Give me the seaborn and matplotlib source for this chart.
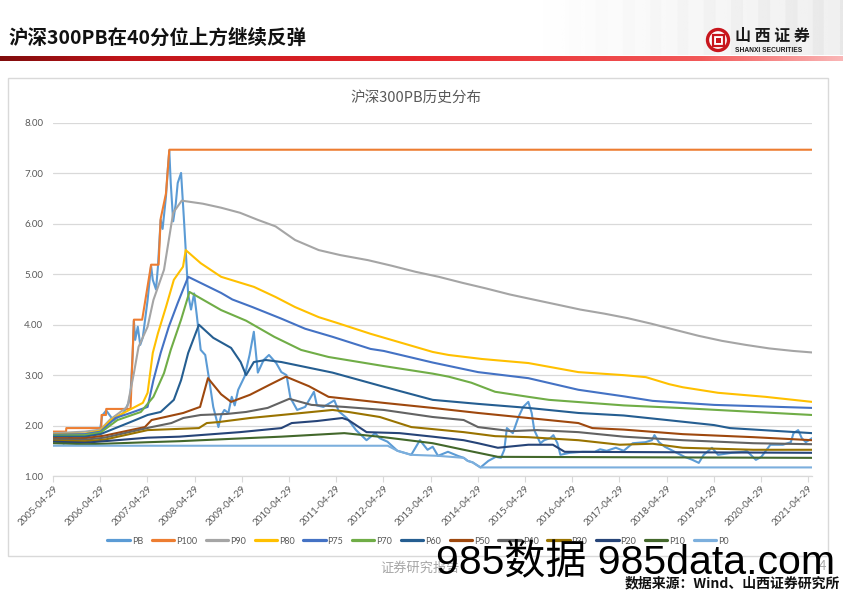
import numpy as np
import pandas as pd
import matplotlib
matplotlib.use("Agg")
import matplotlib.pyplot as plt
import seaborn as sns
from matplotlib.patches import Rectangle, Circle

# ---------------- data ----------------
series_names = ["PB", "P100", "P90", "P80", "P75", "P70", "P60", "P50", "P40", "P30", "P20", "P10", "P0"]
series_colors = ["#5B9BD5", "#ED7D31", "#A5A5A5", "#FFC000", "#4472C4", "#70AD47", "#255E91",
                 "#9E480E", "#636363", "#997300", "#264478", "#43682B", "#7CAFDD"]

pb_dates = ["2005-04-29", "2005-05-20", "2005-06-03", "2005-07-01", "2005-07-20", "2005-09-08", "2005-10-20",
            "2005-12-01", "2006-01-10", "2006-02-15", "2006-03-20", "2006-05-01", "2006-05-15", "2006-06-15",
            "2006-08-10", "2006-09-20", "2006-10-27", "2006-12-05", "2006-12-20", "2007-01-05", "2007-01-15",
            "2007-01-25", "2007-02-14", "2007-03-05", "2007-03-25", "2007-05-01", "2007-05-28", "2007-06-10",
            "2007-07-05", "2007-07-20", "2007-08-10", "2007-08-25", "2007-09-20", "2007-10-05", "2007-10-16",
            "2007-10-27", "2007-11-15", "2007-12-05", "2007-12-20", "2008-01-15", "2008-02-05", "2008-02-20",
            "2008-03-10", "2008-04-01", "2008-04-25", "2008-05-15", "2008-06-15", "2008-07-20", "2008-08-20",
            "2008-09-20", "2008-10-30", "2008-11-20", "2008-12-15", "2009-01-15", "2009-02-10", "2009-03-05",
            "2009-04-01", "2009-05-20", "2009-06-28", "2009-07-31", "2009-08-31", "2009-10-15", "2009-11-25",
            "2010-01-20", "2010-03-01", "2010-04-10", "2010-05-10", "2010-07-01", "2010-09-01", "2010-11-08",
            "2010-12-01", "2011-01-20", "2011-04-15", "2011-05-20", "2011-07-20", "2011-08-20", "2011-09-30",
            "2011-12-20", "2012-02-25", "2012-03-30", "2012-05-30", "2012-08-15", "2012-11-30", "2013-02-05",
            "2013-04-05", "2013-05-15", "2013-06-25", "2013-09-10", "2013-11-25", "2014-01-10", "2014-02-10",
            "2014-03-20", "2014-05-20", "2014-07-20", "2014-09-15", "2014-10-25", "2014-11-20", "2014-12-10",
            "2015-01-25", "2015-03-10", "2015-04-15", "2015-05-25", "2015-06-20", "2015-07-10", "2015-08-26",
            "2015-09-25", "2015-11-10", "2015-12-05", "2016-01-05", "2016-01-28", "2016-04-10", "2016-07-20",
            "2016-10-20", "2016-11-30", "2017-01-20", "2017-04-01", "2017-06-01", "2017-08-10", "2017-11-15",
            "2018-01-05", "2018-01-25", "2018-03-01", "2018-04-15", "2018-07-01", "2018-09-15", "2018-11-15",
            "2019-01-03", "2019-02-10", "2019-04-15", "2019-06-01", "2019-09-15", "2019-12-15", "2020-01-08",
            "2020-03-20", "2020-05-01", "2020-07-10", "2020-10-15", "2020-12-15", "2021-01-05", "2021-02-10",
            "2021-03-10", "2021-04-10", "2021-05-28"]
pb_values = [1.87, 1.78, 1.66, 1.72, 1.64, 1.77, 1.70,
             1.73, 1.80, 1.86, 1.84, 1.97, 2.20, 2.30,
             2.10, 2.18, 2.25, 2.45, 2.65, 3.40, 4.08,
             3.70, 3.96, 3.60, 3.75, 4.49, 5.17, 4.89,
             4.70, 5.15, 6.08, 5.90, 6.54, 7.10, 7.45,
             6.81, 6.05, 6.40, 6.81, 7.01, 6.14, 5.48,
             4.60, 4.30, 4.62, 4.20, 3.50, 3.40, 2.90,
             2.37, 1.97, 2.20, 2.31, 2.25, 2.57, 2.40,
             2.71, 2.97, 3.40, 3.86, 3.05, 3.30, 3.40,
             3.24, 3.06, 3.00, 2.55, 2.31, 2.37, 2.67,
             2.40, 2.37, 2.50, 2.28, 2.15, 2.05, 1.91,
             1.71, 1.85, 1.75, 1.68, 1.50, 1.42, 1.71,
             1.52, 1.58, 1.40, 1.48, 1.40, 1.36, 1.30,
             1.27, 1.17, 1.30, 1.38, 1.36, 1.52, 1.95,
             1.85, 2.17, 2.37, 2.47, 2.25, 1.91, 1.65,
             1.71, 1.75, 1.81, 1.65, 1.42, 1.46, 1.48,
             1.48, 1.53, 1.50, 1.56, 1.50, 1.65, 1.67,
             1.71, 1.81, 1.67, 1.58, 1.48, 1.38, 1.32,
             1.26, 1.42, 1.56, 1.42, 1.46, 1.48, 1.50,
             1.32, 1.38, 1.62, 1.62, 1.67, 1.85, 1.91,
             1.75, 1.67, 1.75]

p100_dates = ["2005-04-29", "2005-08-08", "2005-08-10", "2006-05-08", "2006-05-10", "2006-06-13", "2006-06-15",
              "2006-12-20", "2007-01-15", "2007-03-20", "2007-05-28", "2007-07-25", "2007-08-10", "2007-09-20",
              "2007-10-16", "2021-05-28"]
p100_values = [1.88, 1.88, 1.95, 1.95, 2.21, 2.21, 2.33,
               2.33, 4.10, 4.10, 5.19, 5.19, 6.10, 6.60,
               7.47, 7.47]

p90_dates = ["2005-04-29", "2005-08-01", "2006-01-01", "2006-05-01", "2006-07-15", "2006-11-25", "2007-01-15",
             "2007-02-20", "2007-05-01", "2007-06-15", "2007-09-05", "2007-10-12", "2007-11-15", "2008-01-20",
             "2008-07-01", "2008-11-20", "2009-04-15", "2009-08-30", "2010-01-15", "2010-06-15", "2010-12-15",
             "2011-06-01", "2012-01-01", "2012-07-01", "2013-01-01", "2013-07-01", "2014-01-01", "2014-07-01",
             "2015-01-01", "2015-07-01", "2016-01-01", "2016-07-01", "2017-01-01", "2017-07-01", "2018-01-01",
             "2018-07-01", "2019-01-01", "2019-07-01", "2020-01-01", "2020-07-01", "2021-01-01", "2021-05-28"]
p90_values = [1.85, 1.86, 1.88, 1.92, 2.12, 2.37, 3.04,
              3.56, 3.96, 4.49, 5.09, 5.68, 6.22, 6.46,
              6.40, 6.32, 6.22, 6.08, 5.95, 5.68, 5.48,
              5.38, 5.28, 5.17, 5.05, 4.95, 4.83, 4.72,
              4.60, 4.50, 4.40, 4.30, 4.22, 4.13, 4.02,
              3.90, 3.78, 3.68, 3.60, 3.53, 3.48, 3.45]

p80_dates = ["2005-04-29", "2006-01-01", "2006-05-01", "2006-07-20", "2006-11-25", "2007-03-25", "2007-05-01",
             "2007-06-10", "2007-07-20", "2007-09-20", "2007-11-20", "2008-01-30", "2008-02-20", "2008-06-15",
             "2008-11-20", "2009-08-01", "2010-01-15", "2010-06-15", "2010-12-15", "2011-05-01", "2012-01-20",
             "2013-05-15", "2013-09-15", "2014-06-01", "2015-05-25", "2016-06-15", "2017-06-01", "2017-11-20",
             "2018-05-20", "2018-09-01", "2019-06-01", "2020-06-01", "2021-05-28"]
p80_values = [1.83, 1.84, 1.90, 2.11, 2.29, 2.45, 2.65,
              3.44, 3.83, 4.35, 4.89, 5.15, 5.48, 5.22,
              4.95, 4.75, 4.55, 4.35, 4.15, 4.04, 3.82,
              3.46, 3.40, 3.32, 3.24, 3.06, 3.00, 2.96,
              2.82, 2.76, 2.65, 2.57, 2.47]

p75_dates = ["2005-04-29", "2006-01-01", "2006-05-01", "2006-08-25", "2006-12-20", "2007-05-01", "2007-06-15",
             "2007-08-10", "2007-10-12", "2007-12-20", "2008-03-10", "2008-11-20", "2009-02-15", "2009-07-20",
             "2010-03-01", "2010-09-01", "2011-04-01", "2012-01-20", "2012-05-01", "2013-05-15", "2014-05-01",
             "2015-05-25", "2016-06-15", "2017-06-01", "2018-01-10", "2019-05-01", "2021-05-28"]
p75_values = [1.82, 1.83, 1.88, 2.15, 2.25, 2.37, 2.90,
              3.44, 3.96, 4.43, 4.95, 4.63, 4.50, 4.35,
              4.12, 3.92, 3.76, 3.52, 3.48, 3.25, 3.06,
              2.94, 2.71, 2.58, 2.49, 2.41, 2.35]

p70_dates = ["2005-04-29", "2006-01-01", "2006-05-01", "2006-09-10", "2007-03-10", "2007-06-15", "2007-09-05",
             "2007-10-27", "2008-01-15", "2008-03-20", "2008-11-20", "2009-06-01", "2010-01-05", "2010-08-01",
             "2011-03-01", "2012-05-01", "2013-05-15", "2013-09-15", "2014-03-10", "2014-09-10", "2015-05-25",
             "2015-11-01", "2017-06-01", "2018-08-01", "2021-05-28"]
p70_values = [1.80, 1.81, 1.86, 2.11, 2.27, 2.57, 3.04,
              3.50, 4.10, 4.65, 4.29, 4.08, 3.76, 3.50,
              3.36, 3.18, 3.03, 2.97, 2.85, 2.67, 2.57,
              2.51, 2.40, 2.35, 2.21]

p60_dates = ["2005-04-29", "2006-01-01", "2006-05-01", "2006-12-20", "2007-05-01", "2007-08-10", "2007-11-20",
             "2008-01-15", "2008-03-10", "2008-06-01", "2008-09-20", "2009-02-05", "2009-04-20", "2009-06-01",
             "2009-07-31", "2009-11-01", "2010-03-01", "2011-04-01", "2012-05-01", "2013-05-15", "2014-05-01",
             "2015-05-25", "2016-06-15", "2017-06-01", "2018-05-01", "2019-05-01", "2019-09-01", "2021-05-28"]
p60_values = [1.78, 1.78, 1.83, 2.07, 2.21, 2.27, 2.51,
              2.90, 3.44, 4.00, 3.74, 3.54, 3.26, 3.00,
              3.26, 3.30, 3.26, 3.05, 2.77, 2.51, 2.43,
              2.35, 2.25, 2.20, 2.11, 2.01, 1.95, 1.85]

p50_dates = ["2005-04-29", "2006-01-01", "2006-06-01", "2007-04-10", "2007-06-01", "2008-02-01", "2008-06-10",
             "2008-08-10", "2008-11-20", "2009-02-05", "2009-07-01", "2009-12-01", "2010-04-05", "2010-10-01",
             "2011-03-01", "2012-05-01", "2013-05-15", "2014-05-01", "2015-05-25", "2016-06-15", "2016-10-01",
             "2017-06-01", "2018-09-01", "2020-03-01", "2021-05-28"]
p50_values = [1.75, 1.75, 1.80, 1.97, 2.11, 2.25, 2.37,
              2.94, 2.62, 2.47, 2.61, 2.81, 2.97, 2.78,
              2.57, 2.45, 2.35, 2.25, 2.15, 2.05, 1.95,
              1.92, 1.83, 1.77, 1.71]

p40_dates = ["2005-04-29", "2006-01-01", "2006-06-01", "2007-06-01", "2007-11-01", "2008-02-01", "2008-06-15",
             "2009-01-01", "2009-06-01", "2009-11-15", "2010-05-01", "2010-10-20", "2011-07-01", "2012-05-01",
             "2013-05-15", "2014-01-10", "2014-05-01", "2015-01-10", "2015-08-01", "2016-06-15", "2017-06-01",
             "2018-09-01", "2020-03-01", "2021-05-28"]
p40_values = [1.73, 1.72, 1.76, 1.97, 2.05, 2.15, 2.21,
              2.23, 2.27, 2.35, 2.53, 2.41, 2.37, 2.31,
              2.17, 2.11, 1.97, 1.89, 1.91, 1.87, 1.78,
              1.71, 1.65, 1.63]

p30_dates = ["2005-04-29", "2006-01-01", "2006-06-01", "2007-05-01", "2008-06-01", "2008-08-01", "2008-11-01",
             "2009-07-01", "2010-03-01", "2011-04-01", "2011-08-01", "2012-04-01", "2012-12-01", "2013-05-15",
             "2014-01-10", "2014-09-10", "2015-05-25", "2016-06-15", "2017-05-01", "2018-01-10", "2018-09-01",
             "2020-03-01", "2021-05-28"]
p30_values = [1.70, 1.69, 1.72, 1.91, 1.95, 2.05, 2.07,
              2.15, 2.21, 2.31, 2.27, 2.17, 1.97, 1.93,
              1.87, 1.79, 1.77, 1.71, 1.62, 1.64, 1.56,
              1.52, 1.52]

p20_dates = ["2005-04-29", "2006-01-01", "2006-06-01", "2007-05-01", "2008-01-01", "2009-04-15", "2010-03-01",
             "2010-05-20", "2010-12-01", "2011-06-15", "2011-08-01", "2011-12-20", "2012-09-01", "2013-05-15",
             "2014-01-10", "2014-05-01", "2014-10-01", "2015-05-25", "2015-12-01", "2016-03-01", "2021-05-28"]
p20_values = [1.68, 1.66, 1.69, 1.76, 1.78, 1.87, 1.95,
              2.05, 2.09, 2.15, 2.11, 1.87, 1.85, 1.78,
              1.71, 1.65, 1.56, 1.62, 1.62, 1.48, 1.46]

p10_dates = ["2005-04-29", "2006-01-01", "2006-06-01", "2007-05-01", "2008-01-01", "2009-06-01", "2010-03-01",
             "2011-07-01", "2012-05-01", "2013-05-15", "2014-01-10", "2014-10-01", "2021-05-28"]
p10_values = [1.65, 1.63, 1.64, 1.67, 1.69, 1.75, 1.78,
              1.85, 1.77, 1.65, 1.52, 1.38, 1.36]

p0_dates = ["2005-04-29", "2012-06-01", "2012-08-15", "2012-11-30", "2013-06-25", "2014-01-10", "2014-02-10",
            "2014-03-20", "2014-05-20", "2021-05-28"]
p0_values = [1.60, 1.60, 1.50, 1.42, 1.40, 1.36, 1.30,
             1.27, 1.17, 1.17]

y_ticks = [1, 2, 3, 4, 5, 6, 7, 8]
x_tick_years = list(range(2005, 2022))

# ---------------- assemble long table ----------------
all_dates = [pb_dates, p100_dates, p90_dates, p80_dates, p75_dates, p70_dates, p60_dates,
             p50_dates, p40_dates, p30_dates, p20_dates, p10_dates, p0_dates]
all_values = [pb_values, p100_values, p90_values, p80_values, p75_values, p70_values, p60_values,
              p50_values, p40_values, p30_values, p20_values, p10_values, p0_values]
frames = []
for name, d, v in zip(series_names, all_dates, all_values):
    frames.append(pd.DataFrame({"date": pd.to_datetime(d), "value": v, "series": name}))
df = pd.concat(frames, ignore_index=True)

# ---------------- figure ----------------
sns.set_theme(style="white")
plt.rcParams['font.family'] = ['Lato', 'Noto Sans CJK SC', 'DejaVu Sans']

W, H = 843, 596
fig = plt.figure(figsize=(W / 100, H / 100), dpi=100)
fig.patch.set_facecolor("white")

deco = fig.add_axes([0, 0, 1, 1], zorder=0)
deco.set_xlim(0, W)
deco.set_ylim(H, 0)
deco.axis("off")

# faint building backdrop in header (right side)
bx = np.linspace(0, 1, 300)
bg = np.ones((1, 300, 4))
bg[..., :3] = 0.80
bg[0, :, 3] = np.clip(bx * 0.45, 0, 1) * (0.65 + 0.35 * (np.sin(bx * 70) > 0.2))
deco.imshow(bg, extent=[540, W, 55, 0], aspect="auto", zorder=0, interpolation="bilinear")

# red gradient rule under header
stops_x = np.array([0, 120, 420, 700, 843])
stops_c = np.array([[0.50, 0.05, 0.05], [0.75, 0.08, 0.10], [0.90, 0.15, 0.17], [0.95, 0.35, 0.35],
                    [0.98, 0.72, 0.72]])
xs = np.arange(W)
rule = np.stack([np.interp(xs, stops_x, stops_c[:, k]) for k in range(3)], axis=-1)[None, :, :]
deco.imshow(rule, extent=[0, W, 61, 56], aspect="auto", zorder=1)

# logo emblem
deco.add_patch(Circle((718, 40), 10.5, facecolor="white", edgecolor="#C8161D", lw=2.4, zorder=2))
deco.add_patch(Rectangle((712.5, 34.5), 11, 11, facecolor="none", edgecolor="#C8161D", lw=1.6, zorder=3))
deco.add_patch(Rectangle((715.5, 37.5), 5, 5, facecolor="#C8161D", edgecolor="none", zorder=3))

# chart frame
deco.add_patch(Rectangle((8, 78), 820, 478, facecolor="white", edgecolor="#D9D9D9", lw=1.0, zorder=1))

# ---------------- main plot ----------------
ax = fig.add_axes([53 / W, 1 - 476 / H, (812 - 53) / W, (476 - 123) / H], zorder=2)
ax.patch.set_alpha(0)

sns.lineplot(data=df, x="date", y="value", hue="series", hue_order=series_names,
             palette=series_colors, estimator=None, linewidth=1.5, ax=ax, legend=True)

handles, labels = ax.get_legend_handles_labels()
ax.get_legend().remove()
for h in handles:
    h.set_linewidth(2.3)

ax.set_ylim(1, 8)
ax.set_yticks(y_ticks)
ax.set_yticklabels([f"{t:.2f}" for t in y_ticks])
ax.set_xlim(pd.Timestamp("2005-04-29"), pd.Timestamp("2021-05-28"))
xt = [pd.Timestamp(f"{y}-04-29") for y in x_tick_years]
ax.set_xticks(xt)
ax.set_xticklabels([t.strftime("%Y-%m-%d") for t in xt], rotation=45, ha="right",
                   rotation_mode="anchor")
ax.set_xlabel("")
ax.set_ylabel("")
ax.yaxis.grid(True, color="#D9D9D9", lw=0.9)
ax.xaxis.grid(False)
ax.set_axisbelow(True)
for s in ["top", "right", "left"]:
    ax.spines[s].set_visible(False)
ax.spines["bottom"].set_color("#D9D9D9")
ax.spines["bottom"].set_linewidth(0.9)
ax.tick_params(axis="x", direction="out", length=4, width=0.8, color="#D9D9D9",
               labelsize=7, labelcolor="#595959", pad=2, bottom=True)
ax.tick_params(axis="y", length=0, labelsize=7, labelcolor="#595959", pad=7)

fig.legend(handles, labels, loc="center", bbox_to_anchor=(418 / W, 1 - 541 / H), ncol=13,
           frameon=False, fontsize=6.5, handlelength=2.5, handletextpad=0.2, columnspacing=0.95,
           labelcolor="#595959")

# ---------------- texts ----------------
fig.text(8 / W, 1 - 38 / H, "沪深300PB在40分位上方继续反弹", fontsize=14, fontweight="bold",
         va="center", ha="left", color="#111111", family=["Noto Sans CJK SC", "DejaVu Sans"])
fig.text(416 / W, 1 - 98 / H, "沪深300PB历史分布", fontsize=10.5, color="#595959",
         ha="center", va="center", family=["Noto Sans CJK SC", "DejaVu Sans"])
fig.text(735 / W, 1 - 36 / H, "山 西 证 券", fontsize=11.5, fontweight="bold", va="center", ha="left",
         color="#1A1A1A", family=["Noto Sans CJK SC", "DejaVu Sans"])
fig.text(735 / W, 1 - 50 / H, "SHANXI SECURITIES", fontsize=4.8, fontweight="bold", va="center",
         ha="left", color="#1A1A1A", family=["Liberation Sans"])
fig.text(420 / W, 1 - 568 / H, "证券研究报告", fontsize=9.5, color="#A6A6A6", ha="center", va="center",
         family=["Noto Sans CJK SC", "DejaVu Sans"])
fig.text(822 / W, 1 - 566 / H, "4", fontsize=9, color="#A6A6A6", ha="center", va="center")
fig.text(436 / W, 1 - 563 / H, "985数据 985data.com", fontsize=29.5, color="black", ha="left",
         va="center", family=["Liberation Sans", "Noto Sans CJK SC"], zorder=10)
fig.text(840 / W, 1 - 583 / H, "数据来源：Wind、山西证券研究所", fontsize=10, fontweight="bold",
         color="#111111", ha="right", va="center", family=["Noto Sans CJK SC", "DejaVu Sans"], zorder=11)

fig.savefig("out.png", dpi=100)
